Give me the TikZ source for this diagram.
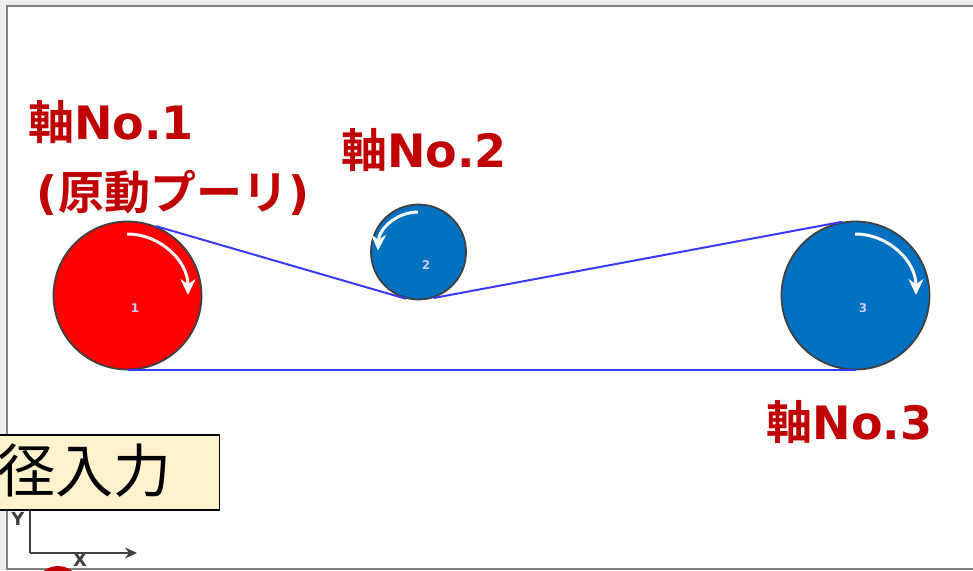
\documentclass[tikz,border=0pt]{standalone}
\usepackage{fontspec}
\setmainfont{Noto Sans CJK JP}
\newfontfamily\cjkbold{Noto Sans CJK JP Bold}
\newfontfamily\latbold{DejaVu Sans Bold}
\setsansfont{DejaVu Sans}
\usetikzlibrary{arrows.meta}
\definecolor{pulleyblue}{HTML}{0070C0}
\definecolor{labelred}{HTML}{C00000}
\definecolor{boxfill}{HTML}{FFF2CC}
\definecolor{beltblue}{HTML}{3A3AFF}
\definecolor{axisgray}{HTML}{404040}
\tikzset{
  pulley/.style={circle,draw=black!75,line width=1.8pt,inner sep=0pt},
  belt/.style={draw=beltblue,line width=2pt},
  spin/.style={draw=white!97!black,line width=3pt,-{Stealth[length=16pt,width=15pt]}},
  axisline/.style={draw=axisgray,line width=1.5pt,-{Stealth[length=12pt,width=11pt]}},
  axislabel/.style={font=\latbold\fontsize{18}{18}\selectfont,text=axisgray,inner sep=0pt},
  redlabel/.style={font=\fontsize{46}{46}\selectfont,text=labelred,inner sep=0pt,anchor=center},
  num/.style={font=\latbold\fontsize{12}{12}\selectfont,text=white!80!blue,inner sep=0pt},
}
\newcommand{\jb}[1]{{\cjkbold #1}}
\newcommand{\lb}[1]{{\latbold #1}}
\begin{document}
\begin{tikzpicture}[x=1pt,y=-1pt]
\useasboundingbox (0,0) rectangle (973,570);
\fill[black!7] (0,0) rectangle (973,570);
\draw[draw=black!50,line width=1.8pt,fill=white] (7,6) rectangle (985,569);
% pulleys
\node[pulley,fill=red,minimum size=148pt] (p1) at (127.5,295.5) {};
\node[pulley,fill=pulleyblue,minimum size=95pt] (p2) at (418.5,252) {};
\node[pulley,fill=pulleyblue,minimum size=148pt] (p3) at (855.5,295.5) {};
% belts
\path[belt] (p1.68) -- (p2.-105);
\path[belt] (p2.-72) -- (p3.100);
\path[belt] (p1.south) -- (p3.south);
% rotation arrows
\path[spin] (127,234) arc[start angle=-90,end angle=0,radius=61];
\path[spin] (855,234) arc[start angle=-90,end angle=0,radius=61];
\path[spin] (418,212) arc[start angle=-90,end angle=-178,radius=40];
% numbers
\node[num] (n1) at (135,308) {1};
\node[num] (n2) at (426,265) {2};
\node[num] (n3) at (863,308) {3};
% labels
\node[redlabel] (l1) at (111,122) {\jb{軸}\lb{No.1}};
\node[redlabel] (l1b) at (173,193) {\lb{(}\jb{原動プーリ}\lb{)}};
\node[redlabel] (l2) at (424,150) {\jb{軸}\lb{No.2}};
\node[redlabel] (l3) at (849.5,422) {\jb{軸}\lb{No.3}};
% axes
\coordinate (o) at (30,553);
\coordinate (xe) at (137,553);
\coordinate (ye) at (30,500);
\draw[draw=axisgray,line width=1.5pt] (ye) -- (o);
\path[axisline] (o) -- (xe);
\node[axislabel] (ly) at (18,519) {Y};
\node[axislabel] (lx) at (80,560) {X};
% red shape at the bottom
\begin{scope}
\clip (0,0) rectangle (973,570);
\fill[labelred] (58,589) circle[radius=23];
\end{scope}
% input box
\begin{scope}
\clip (0,0) rectangle (973,570);
\node[draw=black,line width=1.2pt,fill=boxfill,minimum width=240pt,minimum height=75pt,anchor=east,inner sep=0pt] (box) at (220,472.5) {};
\node[font=\fontsize{58}{58}\selectfont,inner sep=0pt,anchor=east] (boxt) at (172,471) {径入力};
\end{scope}
\end{tikzpicture}
\end{document}
